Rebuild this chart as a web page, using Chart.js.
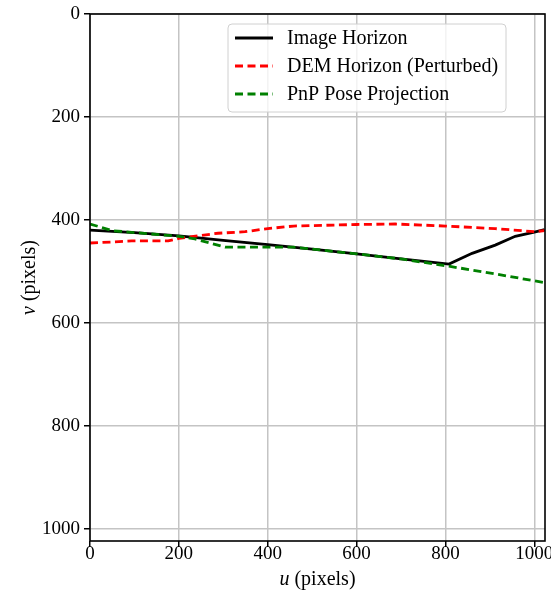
<!DOCTYPE html>
<html>
<head>
<meta charset="utf-8">
<script src="https://cdn.jsdelivr.net/npm/chart.js@4.4.1/dist/chart.umd.min.js"></script>
<style>
  html, body { margin: 0; padding: 0; background: #fff; }
  #wrap { width: 551px; height: 597px; }
</style>
</head>
<body>
<div id="wrap"><canvas id="horizonChart"></canvas></div>
<script>
// Horizon samples: u across the image, v down the image (pixels)
const imageU = [0, 100, 200, 300, 400, 500, 600, 700, 808, 860, 912, 957, 1000, 1023];
const imageV = [420, 425, 431, 440, 448, 457, 466, 476, 486, 465, 449, 432, 424, 419];

const demU = [0, 50, 94, 176, 200, 288, 349, 400, 458, 600, 687, 800, 912, 1000, 1023];
const demV = [445, 443, 441, 441, 436, 426, 423, 417, 412, 409, 408, 412, 417, 423, 421];

const pnpU = [0, 50, 200, 236, 304, 349, 458, 600, 700, 800, 912, 1023];
const pnpV = [408, 421, 432, 437, 453, 453, 453, 466, 476, 489, 505, 522];

const tickValues = [0, 200, 400, 600, 800, 1000];

const FONT = "'Liberation Serif', 'DejaVu Serif', serif";

function toPoints(us, vs) {
  return us.map((u, i) => ({ x: u, y: vs[i] }));
}

function drawMathLabel(ctx, sym, rest, cx, cy) {
  const italic = "italic 20px " + FONT;
  const normal = "20px " + FONT;
  ctx.font = italic;
  const w1 = ctx.measureText(sym).width;
  ctx.font = normal;
  const w2 = ctx.measureText(rest).width;
  const x = cx - (w1 + w2) / 2;
  ctx.textBaseline = "middle";
  ctx.textAlign = "left";
  ctx.fillStyle = "#000";
  ctx.font = italic;
  ctx.fillText(sym, x, cy);
  ctx.font = normal;
  ctx.fillText(rest, x + w1, cy);
}

// Frame, boxed legend and axis titles (matplotlib look)
const decorPlugin = {
  id: "decor",
  afterDatasetsDraw(chart) {
    const { ctx, chartArea: a } = chart;
    ctx.save();

    // box round the plot
    ctx.strokeStyle = "#000";
    ctx.lineWidth = 1.6;
    ctx.strokeRect(a.left, a.top, a.right - a.left, a.bottom - a.top);

    // legend
    const lx = 228, ly = 24, lw = 278, lh = 88;
    ctx.beginPath();
    ctx.roundRect(lx, ly, lw, lh, 4);
    ctx.fillStyle = "rgba(255,255,255,0.8)";
    ctx.fill();
    ctx.strokeStyle = "#d0d0d0";
    ctx.lineWidth = 1;
    ctx.stroke();

    chart.data.datasets.forEach((ds, i) => {
      const y = 38 + i * 28;
      ctx.beginPath();
      ctx.setLineDash(ds.borderDash || []);
      ctx.strokeStyle = ds.borderColor;
      ctx.lineWidth = ds.borderWidth;
      ctx.moveTo(235, y);
      ctx.lineTo(273, y);
      ctx.stroke();
      ctx.setLineDash([]);
      ctx.fillStyle = "#000";
      ctx.font = "20px " + FONT;
      ctx.textAlign = "left";
      ctx.textBaseline = "middle";
      ctx.fillText(ds.label, 287, y + 1);
    });

    // axis titles
    drawMathLabel(ctx, "u", " (pixels)", (a.left + a.right) / 2, 580);
    ctx.translate(30, (a.top + a.bottom) / 2);
    ctx.rotate(-Math.PI / 2);
    drawMathLabel(ctx, "v", " (pixels)", 0, 0);

    ctx.restore();
  }
};

const ctx = document.getElementById("horizonChart").getContext("2d");
const horizonChart = new Chart(ctx, {
  type: "line",
  data: {
    datasets: [
      {
        label: "Image Horizon",
        data: toPoints(imageU, imageV),
        borderColor: "#000000",
        borderWidth: 2.8,
        order: 3,
      },
      {
        label: "DEM Horizon (Perturbed)",
        data: toPoints(demU, demV),
        borderColor: "#ff0000",
        borderWidth: 2.8,
        borderDash: [8, 4.5],
        order: 2,
      },
      {
        label: "PnP Pose Projection",
        data: toPoints(pnpU, pnpV),
        borderColor: "#008000",
        borderWidth: 2.8,
        borderDash: [8, 4.5],
        order: 1,
      },
    ],
  },
  options: {
    responsive: true,
    maintainAspectRatio: false,
    animation: false,
    devicePixelRatio: 1,
    elements: {
      point: { radius: 0 },
      line: { tension: 0, fill: false },
    },
    layout: { padding: { top: 14, right: 6, left: 0, bottom: 0 } },
    plugins: {
      legend: { display: false },
      tooltip: { enabled: false },
    },
    scales: {
      x: {
        type: "linear",
        min: 0,
        max: 1024,
        border: { display: false },
        grid: {
          color: "#c4c4c4",
          lineWidth: 1.5,
          tickColor: "#000",
          tickLength: 6,
          tickWidth: 1.5,
        },
        ticks: {
          color: "#000",
          padding: -4,
          maxRotation: 0,
          font: { family: FONT, size: 19 },
          callback: (v) => String(v),
        },
        afterBuildTicks: (s) => {
          s.ticks = tickValues.map((v) => ({ value: v }));
        },
        afterFit: (s) => {
          s.height = 56;
          s.paddingLeft = 0;
          s.paddingRight = 0;
        },
      },
      y: {
        type: "linear",
        reverse: true,
        min: 0,
        max: 1024,
        border: { display: false },
        grid: {
          color: "#c4c4c4",
          lineWidth: 1.5,
          tickColor: "#000",
          tickLength: 6,
          tickWidth: 1.5,
        },
        ticks: {
          color: "#000",
          padding: 4,
          font: { family: FONT, size: 19 },
          callback: (v) => String(v),
        },
        afterBuildTicks: (s) => {
          s.ticks = tickValues.map((v) => ({ value: v }));
        },
        afterFit: (s) => {
          s.width = 90;
          s.paddingTop = 0;
          s.paddingBottom = 0;
        },
      },
    },
  },
  plugins: [decorPlugin],
});
</script>
</body>
</html>
